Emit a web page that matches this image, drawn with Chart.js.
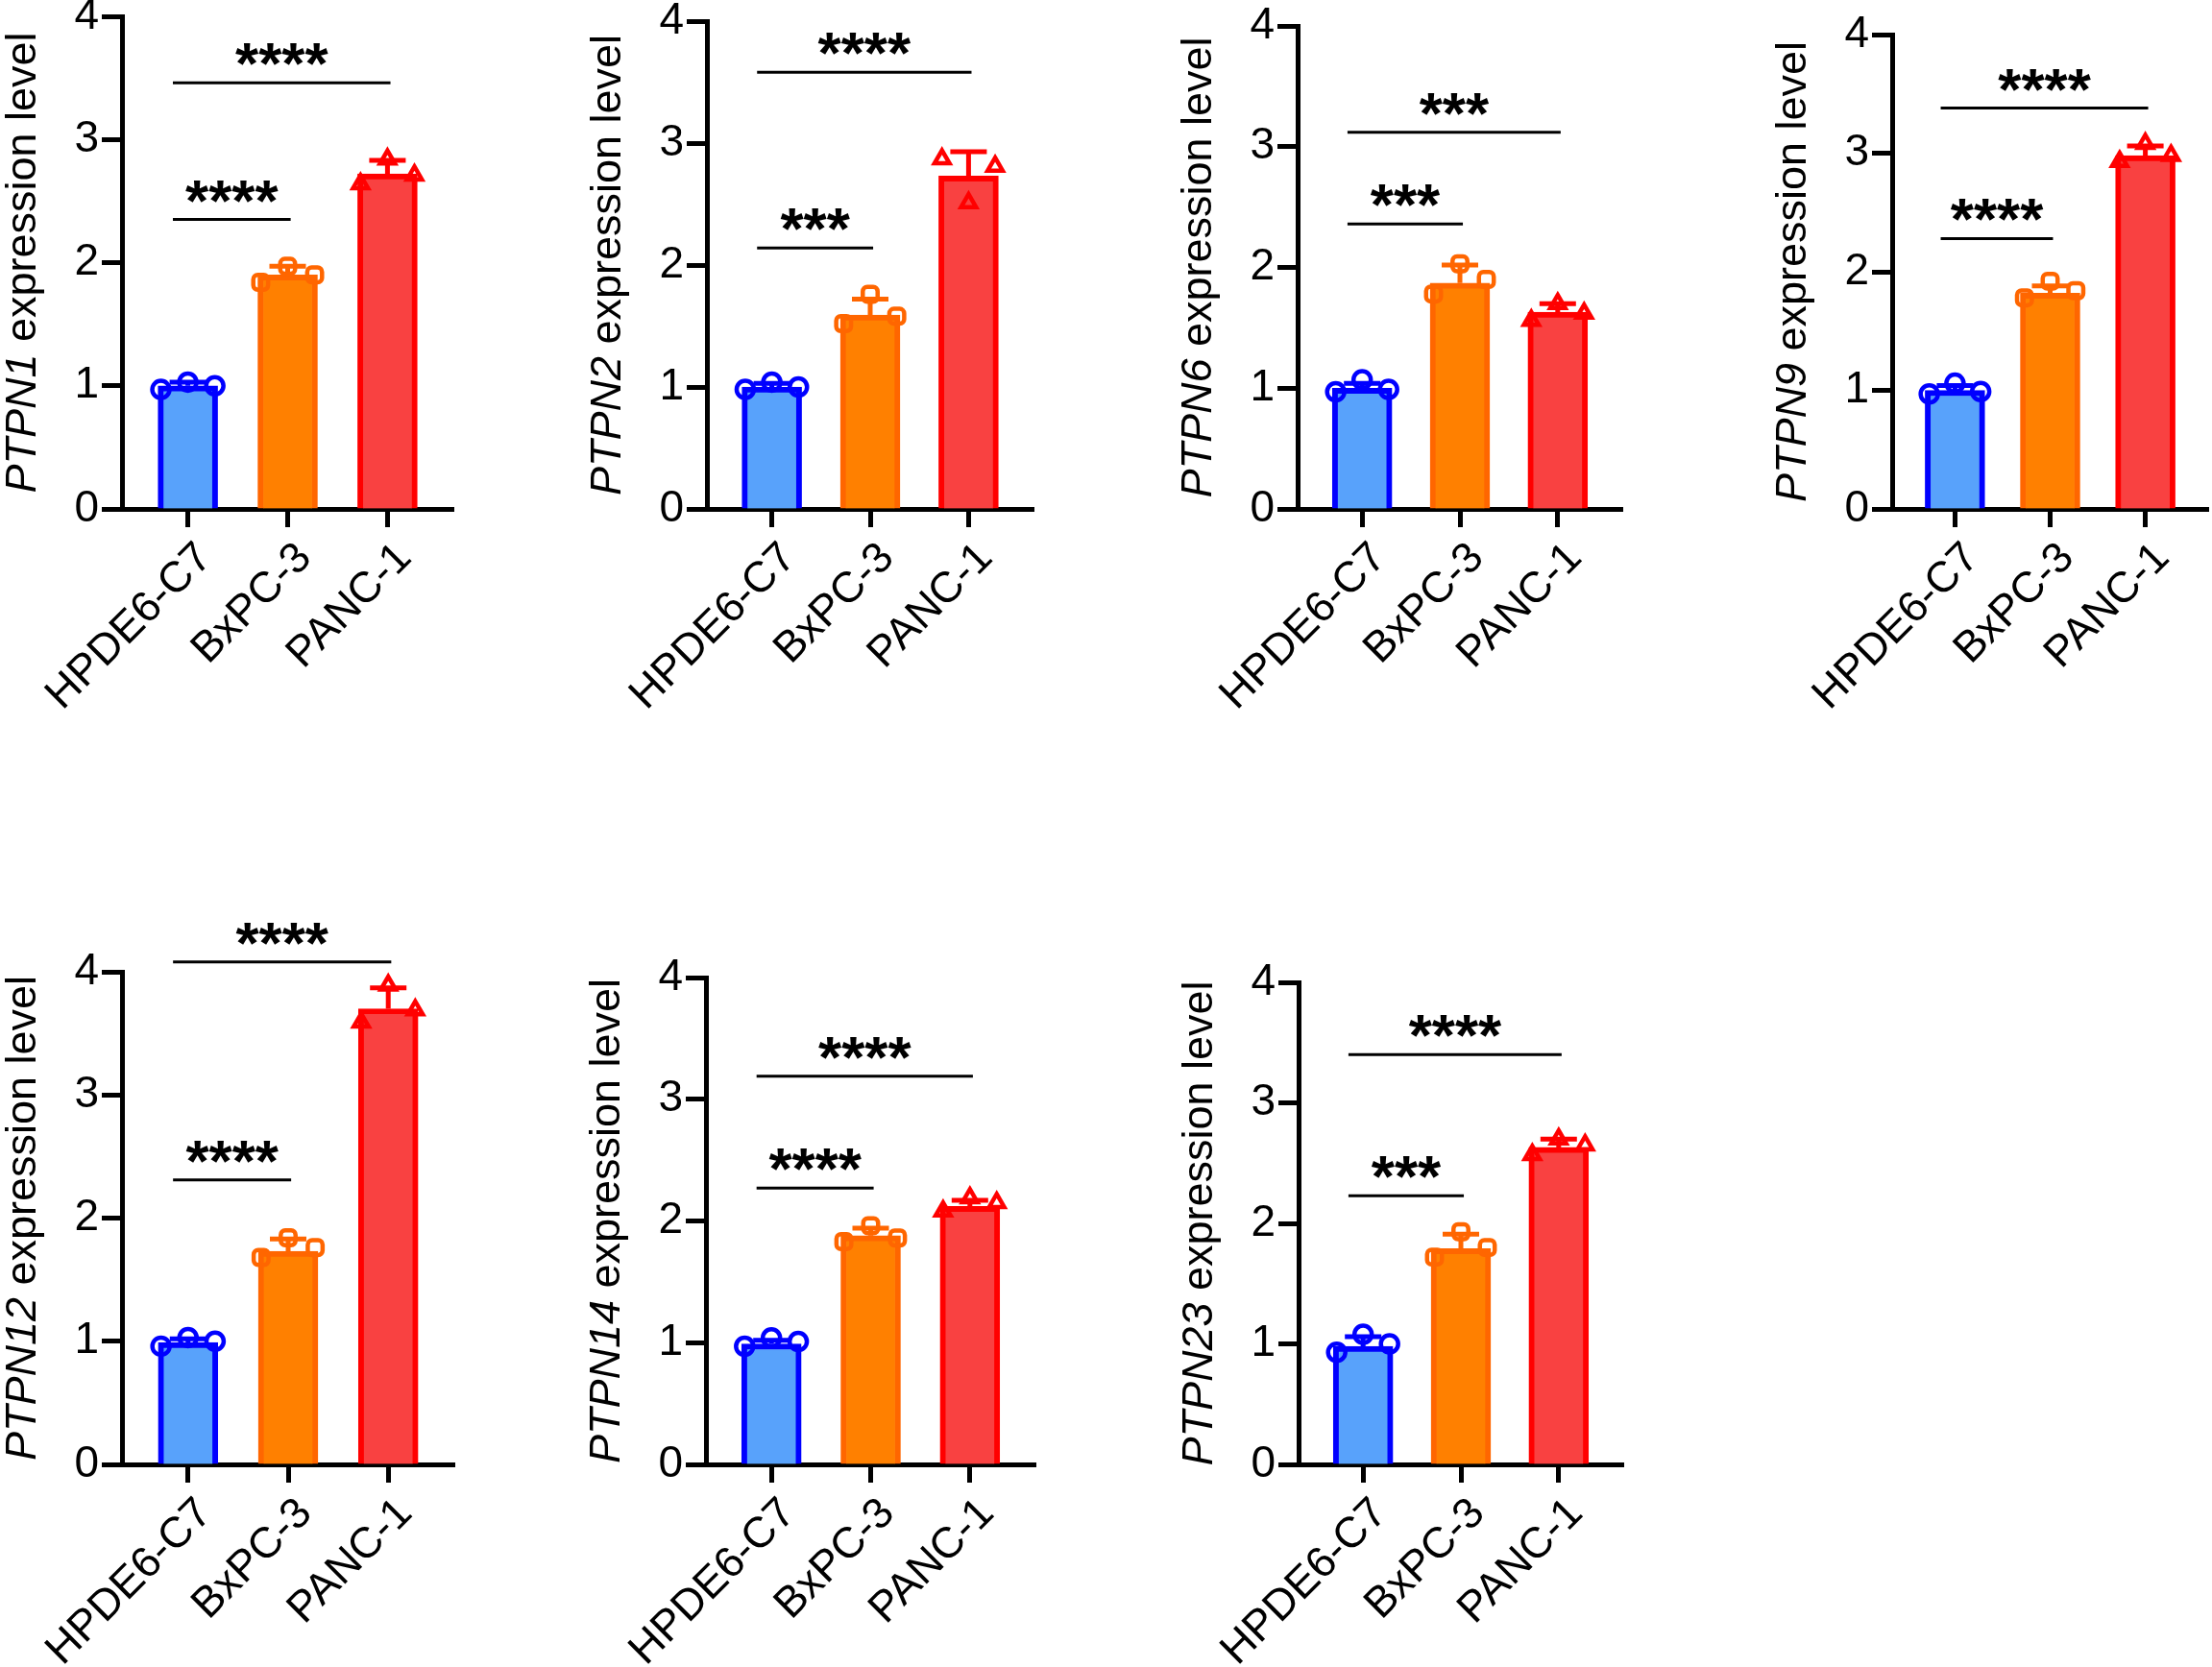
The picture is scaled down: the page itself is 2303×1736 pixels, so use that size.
<!DOCTYPE html>
<html>
<head>
<meta charset="utf-8">
<script src="https://cdn.jsdelivr.net/npm/chart.js@4.4.1/dist/chart.umd.min.js"></script>
<style>
  body { margin: 0; background: #fff; width: 2303px; height: 1736px; position: relative; overflow: hidden; }
  canvas { position: absolute; }
</style>
</head>
<body>
<script>
// ---- data ----
const groups = ['HPDE6-C7', 'BxPC-3', 'PANC-1'];
const genes = ['PTPN1', 'PTPN2', 'PTPN6', 'PTPN9', 'PTPN12', 'PTPN14', 'PTPN23'];
const yTicks = [0, 1, 2, 3, 4];

// bar heights (mean), one value per gene
const meanHPDE = [1.00, 1.00, 1.00, 1.00, 0.99, 0.99, 0.98];
const meanBxPC = [1.90, 1.59, 1.87, 1.82, 1.73, 1.88, 1.79];
const meanPANC = [2.72, 2.73, 1.63, 2.98, 3.70, 2.12, 2.63];

// error bars (SD)
const sdHPDE = [0.03, 0.03, 0.04, 0.04, 0.03, 0.03, 0.08];
const sdBxPC = [0.07, 0.13, 0.15, 0.06, 0.10, 0.06, 0.12];
const sdPANC = [0.11, 0.20, 0.07, 0.08, 0.17, 0.05, 0.07];

// replicates (left, middle, right)
const repHPDE = [[0.97, 1.03, 1.00], [0.98, 1.04, 1.00], [0.97, 1.07, 0.99], [0.97, 1.06, 0.99], [0.96, 1.03, 1.00], [0.97, 1.04, 1.01], [0.93, 1.08, 1.00]];
const repBxPC = [[1.84, 1.97, 1.90], [1.52, 1.76, 1.58], [1.78, 2.03, 1.90], [1.78, 1.92, 1.84], [1.68, 1.84, 1.76], [1.83, 1.96, 1.86], [1.72, 1.93, 1.80]];
const repPANC = [[2.64, 2.84, 2.71], [2.87, 2.51, 2.81], [1.56, 1.70, 1.62], [2.93, 3.08, 2.98], [3.59, 3.89, 3.69], [2.08, 2.19, 2.15], [2.57, 2.70, 2.65]];

// significance: HPDE vs BxPC (low) and HPDE vs PANC (high)
const sigLowText = ['****', '***', '***', '****', '****', '****', '***'];
const sigLowY = [2.35, 2.14, 2.36, 2.28, 2.31, 2.27, 2.23];
const sigHighText = ['****', '****', '***', '****', '****', '****', '****'];
const sigHighY = [3.46, 3.58, 3.12, 3.38, 4.08, 3.19, 3.40];

// ---- layout / style ----
const axisX = [127, 736, 1351, 1970, 127, 735, 1352];
const axisTop = [17, 22, 27, 36, 1012, 1018, 1023];
const axisBottom = [530, 530, 530, 530, 1525, 1525, 1525];
const areaW = [345, 340, 338, 329, 346, 343, 338];

const fillCol = ['#58A2FB', '#FF8000', '#F94141'];
const lineCol = ['#0000FF', '#FF6600', '#FF0000'];
const markers = ['circle', 'rectRounded', 'triangle'];
const FONT = '"Liberation Sans", Arial, sans-serif';
const YW = 130, PADTOP = 80, PADR = 20, XH = 260;
const XMIN = -0.66, XMAX = 2.66, JIT = 0.27;
const STAR = 62;

function extras(p) {
  const means = [meanHPDE[p], meanBxPC[p], meanPANC[p]];
  const sds = [sdHPDE[p], sdBxPC[p], sdPANC[p]];
  return {
    id: 'extras',
    afterDatasetDraw(chart, args) {
      if (args.index !== 0) return;
      const { ctx, scales: { x, y } } = chart;
      ctx.save();
      ctx.lineWidth = 5;
      means.forEach((m, i) => {
        const px = x.getPixelForValue(i);
        const y0 = y.getPixelForValue(m), y1 = y.getPixelForValue(m + sds[i]);
        ctx.strokeStyle = lineCol[i];
        ctx.beginPath();
        ctx.moveTo(px, y0); ctx.lineTo(px, y1);
        ctx.moveTo(px - 19, y1); ctx.lineTo(px + 19, y1);
        ctx.stroke();
      });
      ctx.restore();
    },
    afterDraw(chart) {
      const { ctx, chartArea, scales: { x, y } } = chart;
      ctx.save();
      // brackets
      const sig = [[1, sigLowY[p], sigLowText[p]], [2, sigHighY[p], sigHighText[p]]];
      ctx.strokeStyle = '#000';
      ctx.fillStyle = '#000';
      ctx.lineWidth = 3;
      ctx.font = 'bold ' + STAR + 'px ' + FONT;
      ctx.textAlign = 'center';
      ctx.textBaseline = 'alphabetic';
      sig.forEach(([j, v, txt]) => {
        const x0 = x.getPixelForValue(-0.15), x1 = x.getPixelForValue(j + 0.03);
        const ly = y.getPixelForValue(v);
        ctx.beginPath(); ctx.moveTo(x0, ly); ctx.lineTo(x1, ly); ctx.stroke();
        ctx.fillText(txt, (x0 + x1) / 2, ly + 0.42 * STAR - 25);
      });
      // y title, gene name in italics
      const cy = (chartArea.top + chartArea.bottom) / 2;
      const bx = chartArea.left - 90;
      const italic = 'italic 45px ' + FONT, normal = '45px ' + FONT;
      const rest = ' expression level';
      ctx.font = italic; const w1 = ctx.measureText(genes[p]).width;
      ctx.font = normal; const w2 = ctx.measureText(rest).width;
      ctx.translate(bx, cy);
      ctx.rotate(-Math.PI / 2);
      ctx.textAlign = 'left';
      ctx.font = italic; ctx.fillText(genes[p], -(w1 + w2) / 2, 0);
      ctx.font = normal; ctx.fillText(rest, -(w1 + w2) / 2 + w1, 0);
      ctx.restore();
    }
  };
}

genes.forEach((gene, p) => {
  const cv = document.createElement('canvas');
  const w = YW + areaW[p] + PADR;
  const h = PADTOP + (axisBottom[p] - axisTop[p]) + XH;
  cv.width = w; cv.height = h;
  cv.style.width = w + 'px'; cv.style.height = h + 'px';
  cv.style.left = (axisX[p] - YW) + 'px';
  cv.style.top = (axisTop[p] - PADTOP) + 'px';
  document.body.appendChild(cv);

  const means = [meanHPDE[p], meanBxPC[p], meanPANC[p]];
  const reps = [repHPDE[p], repBxPC[p], repPANC[p]];
  const pts = [], ptStyle = [], ptCol = [];
  reps.forEach((r, i) => r.forEach((v, k) => {
    pts.push({ x: i + (k - 1) * JIT, y: v });
    ptStyle.push(markers[i]);
    ptCol.push(lineCol[i]);
  }));

  new Chart(cv, {
    type: 'bar',
    data: {
      datasets: [{
        type: 'bar',
        data: means.map((v, i) => ({ x: i, y: v })),
        backgroundColor: fillCol,
        borderColor: lineCol,
        borderWidth: 6,
        barThickness: 62,
        order: 2
      }, {
        type: 'scatter',
        data: pts,
        pointStyle: ptStyle,
        pointRadius: 9,
        borderWidth: 4.5,
        borderColor: ptCol,
        backgroundColor: 'rgba(0,0,0,0)',
        clip: false,
        order: 1
      }]
    },
    options: {
      responsive: false,
      animation: false,
      devicePixelRatio: 1,
      layout: { padding: { top: PADTOP, right: PADR, left: 0, bottom: 0 } },
      plugins: { legend: { display: false }, tooltip: { enabled: false } },
      scales: {
        x: {
          type: 'linear',
          offset: false,
          min: XMIN,
          max: XMAX,
          afterBuildTicks: s => { s.ticks = groups.map((g, i) => ({ value: i })); },
          afterFit: s => { s.height = XH; s.paddingLeft = 0; s.paddingRight = 0; },
          ticks: {
            autoSkip: false, maxRotation: 45, minRotation: 45, padding: 6, labelOffset: 18,
            color: '#000', font: { size: 45, family: FONT },
            callback: v => groups[v]
          },
          grid: { offset: false, drawOnChartArea: false, tickLength: 19, tickWidth: 5, tickColor: '#000' },
          border: { display: true, width: 5, color: '#000' }
        },
        y: {
          min: yTicks[0],
          max: yTicks[yTicks.length - 1],
          afterBuildTicks: s => { s.ticks = yTicks.map(v => ({ value: v })); },
          afterFit: s => { s.width = YW; s.paddingTop = 0; s.paddingBottom = 0; },
          ticks: { padding: 3, color: '#000', font: { size: 46, family: FONT } },
          grid: { drawOnChartArea: false, tickLength: 21, tickWidth: 5, tickColor: '#000' },
          border: { display: true, width: 5, color: '#000' }
        }
      }
    },
    plugins: [extras(p)]
  });
});
</script>
</body>
</html>
